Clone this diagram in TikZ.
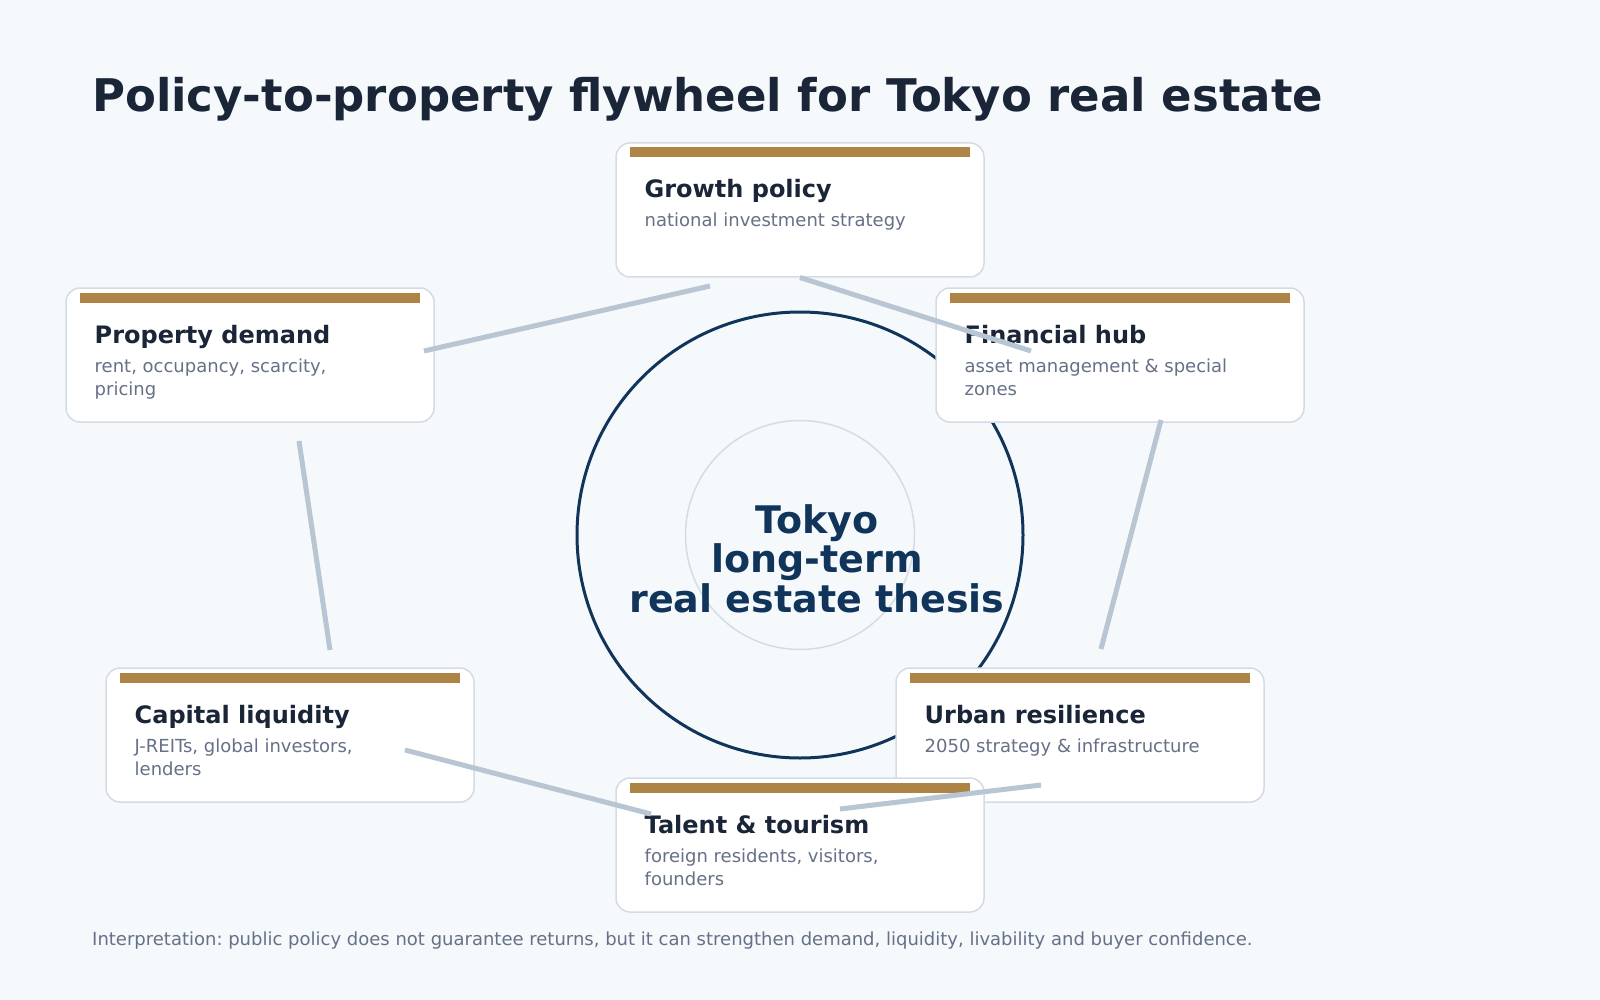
\documentclass[tikz,border=0pt]{standalone}
\usepackage{fontspec}
\setmainfont{DejaVu Sans}
\frenchspacing
\definecolor{bgc}{HTML}{F5F9FC}
\definecolor{titlec}{HTML}{1A2537}
\definecolor{cardline}{HTML}{D4DBE5}
\definecolor{goldc}{HTML}{AD8446}
\definecolor{subc}{HTML}{667087}
\definecolor{linec}{HTML}{B8C5D2}
\definecolor{navyc}{HTML}{11345A}
\definecolor{innerc}{HTML}{D6DCE4}
\tikzset{
  card/.style={draw=cardline, fill=white, line width=1.5pt, rounded corners=14pt,
    minimum width=368pt, minimum height=134pt, inner sep=0pt, outer sep=0pt, anchor=north west},
  cardhead/.style={anchor=base west, inner sep=0pt, text=titlec, font=\fontsize{24}{28}\selectfont\bfseries},
  cardsub/.style={anchor=base west, inner sep=0pt, text=subc, font=\fontsize{18}{22}\selectfont},
  conn/.style={draw=linec, line width=5pt},
  centertxt/.style={anchor=base, inner sep=0pt, text=navyc, font=\fontsize{38}{40}\selectfont\bfseries},
}
\newcommand\mkcard[5]{%
  \node[card] (#1) at (#2,#3) {};
  \fill[goldc] ([shift={(14,4.5)}]#1.north west) rectangle ([shift={(-14,14.5)}]#1.north east);
  \node[cardhead] (#1-h) at ([shift={(28.5,55)}]#1.north west) {#4};
  \node[cardsub] (#1-s) at ([shift={(28.5,84)}]#1.north west) {#5};
}
\newcommand\mkline[2]{%
  \node[cardsub] (#1-s2) at ([shift={(28.5,107.7)}]#1.north west) {#2};
}
\begin{document}
\begin{tikzpicture}[x=1pt,y=-1pt]
\useasboundingbox (0,0) rectangle (1600,1000);
\fill[bgc] (0,0) rectangle (1600,1000);

\node[anchor=base west, inner sep=0pt, text=titlec, font=\fontsize{45}{50}\selectfont\bfseries] (title) at (92,112) {Policy-to-property flywheel for Tokyo real estate};

\node[circle, draw=innerc, line width=1.5pt, minimum size=229pt, inner sep=0pt] (inner) at (800,535) {};
\node[circle, draw=navyc, line width=3pt, minimum size=446pt, inner sep=0pt] (outer) at (800,535) {};

\node[centertxt] (c1) at (817,533) {Tokyo};
\node[centertxt] (c2) at (817,572.5) {long-term};
\node[centertxt] (c3) at (817,612) {real estate thesis};

\mkcard{gp}{616}{143}{Growth policy}{national investment strategy}
\mkcard{pd}{66}{288}{Property demand}{rent, occupancy, scarcity,}
\mkline{pd}{pricing}
\mkcard{fh}{936}{288}{Financial hub}{asset management \& special}
\mkline{fh}{zones}
\mkcard{cl}{106}{668}{Capital liquidity}{J-REITs, global investors,}
\mkline{cl}{lenders}
\mkcard{ur}{896}{668}{Urban resilience}{2050 strategy \& infrastructure}
\mkcard{tt}{616}{778}{Talent \& tourism}{foreign residents, visitors,}
\mkline{tt}{founders}

\coordinate (k1a) at (800,277.5); \coordinate (k1b) at (1031,351);
\coordinate (k2a) at (1161,420);  \coordinate (k2b) at (1101,649);
\coordinate (k3a) at (1041,785);  \coordinate (k3b) at (840,809);
\coordinate (k4a) at (651,814);   \coordinate (k4b) at (405,750);
\coordinate (k5a) at (330,650);   \coordinate (k5b) at (299,441);
\coordinate (k6a) at (424,351);   \coordinate (k6b) at (710,286);
\draw[conn] (k1a) -- (k1b);
\draw[conn] (k2a) -- (k2b);
\draw[conn] (k3a) -- (k3b);
\draw[conn] (k4a) -- (k4b);
\draw[conn] (k5a) -- (k5b);
\draw[conn] (k6a) -- (k6b);

\node[anchor=base west, inner sep=0pt, text=subc, font=\fontsize{18}{21}\selectfont] (note) at (92,945) {Interpretation: public policy does not guarantee returns, but it can strengthen demand, liquidity, livability and buyer confidence.};
\end{tikzpicture}
\end{document}
